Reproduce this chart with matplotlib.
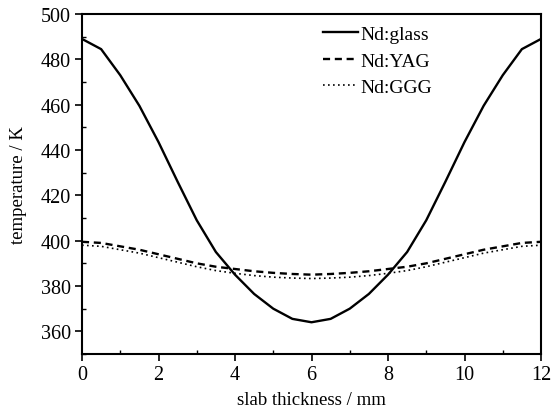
import matplotlib
matplotlib.use("Agg")
import matplotlib.pyplot as plt
from matplotlib.ticker import MultipleLocator

plt.rcParams['font.family'] = ['Liberation Serif', 'DejaVu Serif']

thickness = [0, 0.5, 1.0, 1.5, 2.0, 2.5, 3.0, 3.5, 4.0, 4.5, 5.0, 5.5, 6.0,
             6.5, 7.0, 7.5, 8.0, 8.5, 9.0, 9.5, 10.0, 10.5, 11.0, 11.5, 12.0]
nd_glass = [489, 484.5, 473, 459.5, 443.5, 426, 409, 395, 385, 376.5, 370, 365.5, 364,
            365.5, 370, 376.5, 385, 395, 409, 426, 443.5, 459.5, 473, 484.5, 489]
nd_yag = [399.5, 399, 397.5, 396, 394, 392, 390, 388.5, 387.5, 386.5, 385.8, 385.3, 385,
          385.3, 385.8, 386.5, 387.5, 388.5, 390, 392, 394, 396, 397.5, 399, 399.5]
nd_ggg = [398, 397.5, 396, 394.5, 392.5, 390.5, 388.5, 386.8, 385.6, 384.6, 383.9, 383.5, 383.3,
          383.5, 383.9, 384.6, 385.6, 386.8, 388.5, 390.5, 392.5, 394.5, 396, 397.5, 398]
series_labels = ['Nd:glass', 'Nd:YAG', 'Nd:GGG']
x_ticks = [0, 2, 4, 6, 8, 10, 12]
y_ticks = [360, 380, 400, 420, 440, 460, 480, 500]

fig = plt.figure(figsize=(5.55, 4.14), dpi=100)
ax = fig.add_axes([82/555, 1 - 355/414, (541-82)/555, (355-15)/414])

ax.plot(thickness, nd_glass, color='black', lw=1.7, ls='-', label=series_labels[0])
ax.plot(thickness, nd_yag, color='black', lw=1.7, ls=(0, (3, 2)), label=series_labels[1])
ax.plot(thickness, nd_ggg, color='black', lw=1.2, ls=(0, (1, 2)), label=series_labels[2])

ax.set_xlim(0, 12)
ax.set_ylim(350, 500)
ax.set_xticks(x_ticks)
ax.set_yticks(y_ticks)
ax.xaxis.set_minor_locator(MultipleLocator(1))
ax.yaxis.set_minor_locator(MultipleLocator(10))
ax.tick_params(which='major', direction='out', length=5, width=1.2, labelsize=14.5, pad=3)
ax.tick_params(which='minor', direction='in', length=3, width=1.0)
for s in ax.spines.values():
    s.set_linewidth(1.5)

ax.set_xlabel('slab thickness / mm', fontsize=13.5, labelpad=5)
ax.set_ylabel('temperature / K', fontsize=13.5, labelpad=10)

leg = ax.legend(loc='upper left', bbox_to_anchor=(0.50, 1.0), frameon=False,
                fontsize=14, handlelength=1.8, handletextpad=0.1, labelspacing=0.45,
                borderaxespad=0.2)

fig.savefig('out.png', dpi=100)
